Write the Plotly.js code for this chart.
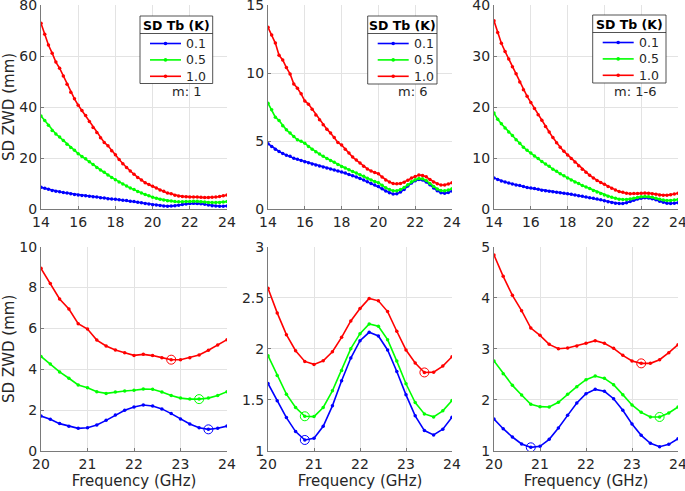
<!DOCTYPE html>
<html>
<head>
<meta charset="utf-8">
<script src="https://cdn.plot.ly/plotly-3.0.1.min.js"></script>
<style>html,body{margin:0;padding:0;background:#fff}#chart{width:685px;height:491px}</style>
</head>
<body>
<div id="chart"></div>
<script>
// ---------- data ----------
var freq = [14.0,14.2,14.4,14.6,14.8,15.0,15.2,15.4,15.6,15.8,16.0,16.2,16.4,16.6,16.8,17.0,17.2,17.4,17.6,17.8,
            18.0,18.2,18.4,18.6,18.8,19.0,19.2,19.4,19.6,19.8,
            20.0,20.2,20.4,20.6,20.8,21.0,21.2,21.4,21.6,21.8,22.0,22.2,22.4,22.6,22.8,23.0,23.2,23.4,23.6,23.8,24.0];
var sdTbLabels = ['0.1', '0.5', '1.0'];
var legendTitle = 'SD Tb (K)';
var panelLabels = ['m: 1', 'm: 6', 'm: 1-6'];

// m: 1
var m1_01 = [8.5,8.1,7.7,7.3,7.0,6.8,6.5,6.3,6.0,5.7,5.5,5.3,5.2,5.0,4.8,4.7,4.4,4.3,4.0,3.9,3.8,3.6,3.4,3.3,3.0,2.9,2.6,2.5,2.2,2.0,
             1.71,1.55,1.34,1.21,1.11,1.14,1.27,1.50,1.76,1.99,2.15,2.25,2.20,2.06,1.83,1.57,1.32,1.14,1.06,1.11,1.22];
var m1_05 = [36.5,34.7,32.8,30.8,29.4,28.2,26.9,25.4,24.1,23.0,21.7,20.6,19.7,18.5,17.5,16.3,15.3,14.4,13.3,12.4,11.5,10.6,9.8,9.0,8.2,7.6,6.9,6.3,5.7,5.2,
             4.63,4.26,3.87,3.56,3.23,3.10,2.90,2.82,2.89,2.94,2.97,3.03,3.02,2.89,2.72,2.59,2.54,2.54,2.59,2.72,2.90];
var m1_10 = [72.8,68.5,64.3,61.1,57.6,55.2,52.2,48.9,45.8,43.2,40.7,38.6,36.7,34.3,32.0,30.0,27.9,26.1,24.8,22.8,21.3,19.4,17.7,16.3,14.9,13.6,12.4,11.4,10.3,9.6,
             8.94,8.20,7.44,6.95,6.23,5.97,5.43,5.14,4.94,4.81,4.68,4.73,4.67,4.57,4.47,4.47,4.57,4.70,4.93,5.19,5.45];
// m: 6
var m6_01 = [4.80,4.60,4.40,4.23,4.09,3.96,3.87,3.74,3.65,3.57,3.47,3.40,3.30,3.23,3.16,3.08,3.01,2.94,2.86,2.79,2.72,2.64,2.54,2.45,2.35,2.25,2.13,2.01,1.88,1.76,
             1.661,1.491,1.327,1.190,1.108,1.124,1.242,1.442,1.687,1.910,2.080,2.162,2.126,1.989,1.779,1.550,1.344,1.200,1.157,1.213,1.331];
var m6_05 = [7.78,7.29,6.75,6.51,6.12,5.82,5.58,5.33,5.09,4.99,4.84,4.60,4.40,4.21,4.04,3.87,3.72,3.57,3.43,3.28,3.13,3.01,2.89,2.76,2.64,2.52,2.40,2.27,2.14,2.03,
             1.933,1.740,1.556,1.426,1.340,1.337,1.426,1.589,1.789,2.002,2.149,2.244,2.221,2.090,1.880,1.658,1.475,1.363,1.334,1.393,1.494];
var m6_10 = [13.36,12.8,12.2,11.3,10.96,10.4,9.93,9.2,8.88,8.47,7.95,7.71,7.34,6.92,6.56,6.19,5.87,5.58,5.26,4.89,4.70,4.40,4.11,3.82,3.60,3.38,3.15,2.95,2.80,2.68,
             2.594,2.352,2.139,1.982,1.877,1.848,1.884,1.972,2.113,2.273,2.394,2.493,2.470,2.365,2.172,1.989,1.861,1.769,1.772,1.831,1.923];
// m: 1-6
var m16_01 = [6.1,5.8,5.5,5.3,5.1,4.9,4.7,4.6,4.4,4.2,4.1,4.0,3.85,3.7,3.6,3.5,3.4,3.3,3.2,3.07,3.0,2.87,2.74,2.6,2.48,2.35,2.2,2.09,1.96,1.8,
              1.626,1.437,1.274,1.137,1.072,1.091,1.228,1.450,1.698,1.940,2.122,2.207,2.168,2.024,1.796,1.529,1.307,1.150,1.085,1.131,1.241];
var m16_05 = [18.8,17.6,16.7,15.9,15.1,14.4,13.6,12.9,12.1,11.5,11.0,10.4,9.9,9.3,8.8,8.4,7.8,7.4,6.9,6.5,6.1,5.7,5.3,5.0,4.6,4.3,4.0,3.65,3.35,3.05,
              2.762,2.514,2.285,2.096,1.914,1.868,1.861,1.953,2.109,2.259,2.396,2.468,2.422,2.299,2.103,1.901,1.757,1.666,1.666,1.744,1.861];
var m16_10 = [36.9,34.6,32.5,30.9,29.4,27.9,26.5,24.9,23.4,22.1,20.9,19.7,18.5,17.4,16.2,15.1,14.0,13.0,12.1,11.3,10.6,9.9,9.2,8.5,7.8,7.2,6.6,6.1,5.6,5.2,
              4.837,4.419,4.047,3.747,3.408,3.264,3.088,3.003,3.016,3.055,3.108,3.160,3.108,3.010,2.873,2.762,2.716,2.716,2.788,2.925,3.082];

// frequency of the marked minimum (blue 0.1, green 0.5, red 1.0) per panel
var m1_minFreq  = [23.6, 23.4, 22.8];
var m6_minFreq  = [20.8, 20.8, 23.4];
var m16_minFreq = [20.8, 23.6, 23.2];

var zoomStart = 20.0;  // lower panels start here

// ---------- build ----------
var colors = ['rgb(0,0,255)', 'rgb(0,255,0)', 'rgb(255,0,0)'];
var panels = [
  {series: [m1_01, m1_05, m1_10], mins: m1_minFreq},
  {series: [m6_01, m6_05, m6_10], mins: m6_minFreq},
  {series: [m16_01, m16_05, m16_10], mins: m16_minFreq}
];
var traces = [];
var i0 = freq.indexOf(zoomStart);
panels.forEach(function (p, pi) {
  var topX = 'x' + (pi === 0 ? '' : (pi + 1)), topY = 'y' + (pi === 0 ? '' : (pi + 1));
  var botX = 'x' + (pi + 4), botY = 'y' + (pi + 4);
  p.series.forEach(function (s, si) {
    traces.push({
      x: freq, y: s, xaxis: topX, yaxis: topY, type: 'scatter', mode: 'lines+markers',
      name: sdTbLabels[si], showlegend: false,
      line: {color: colors[si], width: 1.6}, marker: {color: colors[si], size: 3.5}
    });
    traces.push({
      x: freq.slice(i0), y: s.slice(i0), xaxis: botX, yaxis: botY, type: 'scatter', mode: 'lines+markers',
      name: sdTbLabels[si], showlegend: false,
      line: {color: colors[si], width: 1.6}, marker: {color: colors[si], size: 3.5}
    });
  });
  p.mins.forEach(function (f, si) {
    var k = freq.indexOf(f);
    traces.push({
      x: [f], y: [p.series[si][k]], xaxis: botX, yaxis: botY, type: 'scatter', mode: 'markers',
      showlegend: false,
      marker: {symbol: 'circle-open', size: 9, color: colors[si], line: {width: 1, color: colors[si]}}
    });
  });
});

var W = 685, H = 491;
function px(v) { return v / W; }
function py(v) { return 1 - v / H; }
var fam = 'DejaVu Sans, sans-serif';
var font = {family: fam, size: 14, color: '#262626'};
var axisCommon = {
  showline: true, linecolor: '#7a7a7a', linewidth: 1, mirror: false,
  showgrid: true, gridcolor: '#e3e3e3', gridwidth: 1, zeroline: false,
  ticks: 'inside', ticklen: 3, tickcolor: '#7a7a7a', tickfont: {family: fam, size: 14, color: '#262626'},
  ticklabeloverflow: 'allow', automargin: false, fixedrange: true
};
function ax(extra) { return Object.assign({}, axisCommon, extra); }

var xDom = [[px(41), px(227)], [px(268), px(452)], [px(494), px(678)]];
var yTop = [py(209), py(5)], yBot = [py(451), py(246.7)];
var xTitle = {text: 'Frequency (GHz)', font: {size: 15}, standoff: 4};
var yTitle = {text: 'SD ZWD (mm)', font: {size: 15}, standoff: 6};

var layout = {
  width: W, height: H, margin: {l: 0, r: 0, t: 0, b: 0},
  paper_bgcolor: '#fff', plot_bgcolor: '#fff', font: font, showlegend: false,
  xaxis:  ax({domain: xDom[0], anchor: 'y',  range: [14, 24], tickvals: [14,16,18,20,22,24]}),
  xaxis2: ax({domain: xDom[1], anchor: 'y2', range: [14, 24], tickvals: [14,16,18,20,22,24]}),
  xaxis3: ax({domain: xDom[2], anchor: 'y3', range: [14, 24], tickvals: [14,16,18,20,22,24]}),
  xaxis4: ax({domain: xDom[0], anchor: 'y4', range: [20, 24], tickvals: [20,21,22,23,24], title: xTitle}),
  xaxis5: ax({domain: xDom[1], anchor: 'y5', range: [20, 24], tickvals: [20,21,22,23,24], title: xTitle}),
  xaxis6: ax({domain: xDom[2], anchor: 'y6', range: [20, 24], tickvals: [20,21,22,23,24], title: xTitle}),
  yaxis:  ax({domain: yTop, anchor: 'x',  range: [0, 80], tickvals: [0,20,40,60,80], title: yTitle}),
  yaxis2: ax({domain: yTop, anchor: 'x2', range: [0, 15], tickvals: [0,5,10,15]}),
  yaxis3: ax({domain: yTop, anchor: 'x3', range: [0, 40], tickvals: [0,10,20,30,40]}),
  yaxis4: ax({domain: yBot, anchor: 'x4', range: [0, 10], tickvals: [0,2,4,6,8,10], title: yTitle}),
  yaxis5: ax({domain: yBot, anchor: 'x5', range: [1, 3], tickvals: [1,1.5,2,2.5,3], ticktext: ['1','1.5','2','2.5','3']}),
  yaxis6: ax({domain: yBot, anchor: 'x6', range: [1, 5], tickvals: [1,2,3,4,5]}),
  annotations: [],
  shapes: []
};

// legend boxes (pixel geometry)
var legendBoxes = [
  {left: 140, right: 212.7, top: 16, bottom: 83.5},
  {left: 367.7, right: 437, top: 16, bottom: 84},
  {left: 592.7, right: 666, top: 15, bottom: 83}
];
var labelCenters = [187, 412, 635];
legendBoxes.forEach(function (b, i) {
  layout.shapes.push({type: 'rect', xref: 'paper', yref: 'paper', layer: 'above',
    x0: px(b.left), x1: px(b.right), y0: py(b.bottom), y1: py(b.top),
    fillcolor: '#fff', line: {color: '#262626', width: 0.8}});
  var sep = b.top + 17.5;
  layout.shapes.push({type: 'line', xref: 'paper', yref: 'paper', layer: 'above',
    x0: px(b.left), x1: px(b.right), y0: py(sep), y1: py(sep), line: {color: '#262626', width: 0.8}});
  layout.annotations.push({xref: 'paper', yref: 'paper', x: px((b.left + b.right) / 2), y: py(b.top + 9),
    xanchor: 'center', yanchor: 'middle', showarrow: false, text: '<b>' + legendTitle + '</b>',
    font: {family: fam, size: 12.5, color: '#000'}});
  sdTbLabels.forEach(function (lab, si) {
    var yy = b.top + 27.5 + si * 16.4;
    var xa = b.left + 10, xb = b.left + 41, xm = (xa + xb) / 2;
    layout.shapes.push({type: 'line', xref: 'paper', yref: 'paper', layer: 'above',
      x0: px(xa), x1: px(xb), y0: py(yy), y1: py(yy), line: {color: colors[si], width: 1.6}});
    layout.shapes.push({type: 'circle', xref: 'paper', yref: 'paper', layer: 'above',
      x0: px(xm - 1.8), x1: px(xm + 1.8), y0: py(yy + 1.8), y1: py(yy - 1.8),
      fillcolor: colors[si], line: {color: colors[si], width: 0}});
    layout.annotations.push({xref: 'paper', yref: 'paper', x: px(b.left + 44), y: py(yy),
      xanchor: 'left', yanchor: 'middle', showarrow: false, text: lab,
      font: {family: fam, size: 12.5, color: '#262626'}});
  });
  layout.annotations.push({xref: 'paper', yref: 'paper', x: px(labelCenters[i]), y: py(92),
    xanchor: 'center', yanchor: 'middle', showarrow: false, text: panelLabels[i],
    font: {family: fam, size: 13, color: '#262626'}});
});

Plotly.newPlot('chart', traces, layout, {staticPlot: true, displayModeBar: false});
</script>
</body>
</html>
